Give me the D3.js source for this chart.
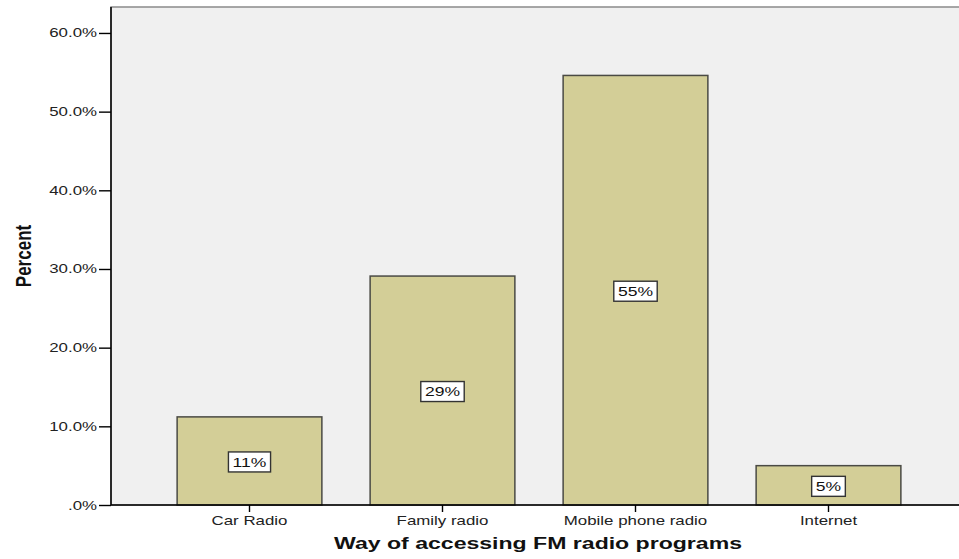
<!DOCTYPE html>
<html>
<head>
<meta charset="utf-8">
<script src="https://cdn.jsdelivr.net/npm/d3@7"></script>
<style>
  body { margin: 0; background: #fff; }
  svg { display: block; font-family: "Liberation Sans", Arial, sans-serif; }
</style>
</head>
<body>
<svg width="959" height="559"></svg>
<script>
var categories = ["Car Radio", "Family radio", "Mobile phone radio", "Internet"];
var percents = [11.2, 29.1, 54.6, 5.0];
var barLabels = ["11%", "29%", "55%", "5%"];
var yTicks = [0, 10, 20, 30, 40, 50, 60];

(function () {
  var svg = d3.select("svg");
  var plotLeft = 111, plotTop = 7, plotRight = 962, plotBottom = 505;
  var wide = 1.35; // the source image is stretched sideways

  var x = d3.scaleBand()
    .domain(categories)
    .range([153, 925])
    .paddingInner(0.25)
    .paddingOuter(0.125);

  var y = d3.scaleLinear()
    .domain([0, 63.3])
    .range([plotBottom, plotTop]);

  // plot background
  svg.append("rect")
    .attr("x", plotLeft).attr("y", plotTop)
    .attr("width", plotRight - plotLeft).attr("height", plotBottom - plotTop)
    .attr("fill", "#f0f0f0")
    .attr("stroke", "#8a8a8a")
    .attr("stroke-width", 1.5);

  var data = categories.map((c, i) => ({ name: c, value: percents[i], label: barLabels[i] }));

  svg.append("g").selectAll("rect")
    .data(data)
    .enter()
    .append("rect")
    .attr("x", d => x(d.name))
    .attr("y", d => y(d.value))
    .attr("width", x.bandwidth())
    .attr("height", d => plotBottom - y(d.value))
    .attr("fill", "#d3ce97")
    .attr("stroke", "#4a4a44")
    .attr("stroke-width", 1.5);

  // value labels
  var labels = svg.append("g").selectAll("g")
    .data(data)
    .enter()
    .append("g")
    .attr("transform", d => `translate(${x(d.name) + x.bandwidth() / 2},${(y(d.value) + plotBottom) / 2 + 1})`);

  labels.append("text")
    .attr("text-anchor", "middle")
    .attr("dy", "0.36em")
    .attr("font-size", 13)
    .attr("fill", "#111")
    .attr("transform", `scale(${wide},1)`)
    .text(d => d.label)
    .each(function () {
      var b = this.getBBox();
      var w = b.width * wide + 8;
      d3.select(this.parentNode).insert("rect", "text")
        .attr("x", -w / 2).attr("y", -10)
        .attr("width", w).attr("height", 20)
        .attr("fill", "#fff")
        .attr("stroke", "#333")
        .attr("stroke-width", 1.4);
    });

  // y axis
  var yAxis = svg.append("g")
    .attr("transform", `translate(${plotLeft},0)`)
    .call(d3.axisLeft(y).tickValues(yTicks).tickSize(12).tickPadding(2)
      .tickFormat(d => d === 0 ? ".0%" : d.toFixed(1) + "%"));
  yAxis.select(".domain").attr("stroke", "#000").attr("stroke-width", 1.5)
    .attr("d", `M0,${plotTop}V${plotBottom}`);
  yAxis.selectAll(".tick line").attr("stroke-width", 1.4);
  yAxis.selectAll("text").attr("font-size", 12.5).attr("fill", "#222")
    .attr("font-family", "'Liberation Sans', Arial, sans-serif")
    .attr("x", -14 / wide)
    .attr("transform", `scale(${wide},1)`);

  // x axis
  var xAxis = svg.append("g")
    .attr("transform", `translate(0,${plotBottom})`)
    .call(d3.axisBottom(x).tickSize(7).tickPadding(4));
  xAxis.select(".domain").attr("stroke", "#000").attr("stroke-width", 1.5)
    .attr("d", `M${plotLeft},0H${plotRight}`);
  xAxis.selectAll(".tick line").attr("stroke-width", 1.4);
  xAxis.selectAll("text").attr("font-size", 12.5).attr("fill", "#222")
    .attr("font-family", "'Liberation Sans', Arial, sans-serif")
    .attr("transform", `scale(${wide},1)`);

  // axis titles
  svg.append("text")
    .attr("x", 538).attr("y", 549)
    .attr("text-anchor", "middle")
    .attr("font-size", 16)
    .attr("font-weight", "bold")
    .attr("fill", "#111")
    .attr("textLength", 408)
    .attr("lengthAdjust", "spacingAndGlyphs")
    .text("Way of accessing FM radio programs");

  svg.append("text")
    .attr("transform", `translate(31,256) rotate(-90) scale(1,${wide})`)
    .attr("text-anchor", "middle")
    .attr("font-size", 17)
    .attr("font-weight", "bold")
    .attr("fill", "#111")
    .text("Percent");
})();
</script>
</body>
</html>
